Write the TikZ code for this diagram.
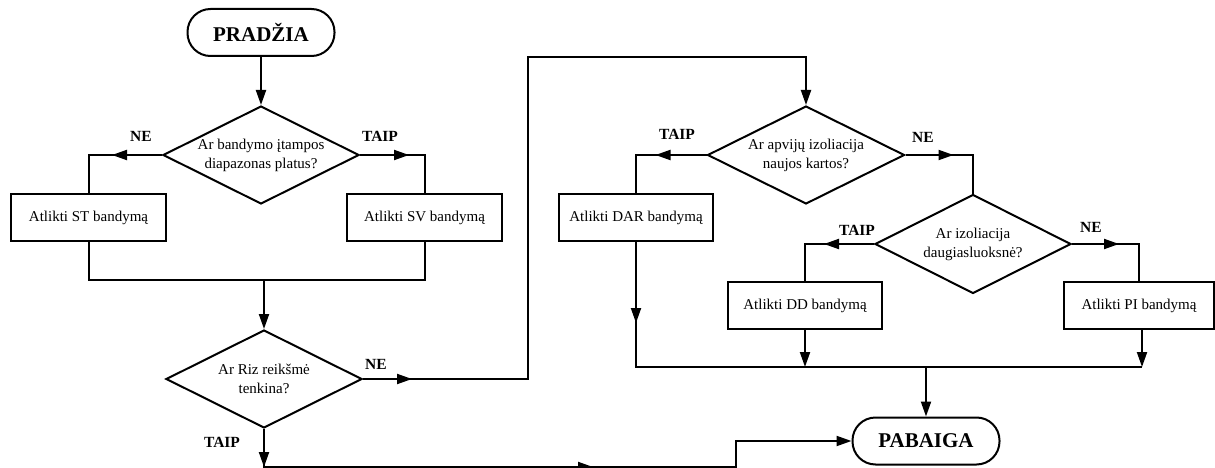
\documentclass[tikz,border=0pt]{standalone}
\usepackage{fontspec}
\setmainfont{Liberation Serif}
\usetikzlibrary{arrows.meta,shapes.geometric,decorations.markings}
\begin{document}
\begin{tikzpicture}[x=1pt,y=-1pt,
  line width=2pt,
  txt/.style={font=\fontsize{15}{19}\selectfont},
  box/.style={draw,rectangle,txt,minimum width=155pt,minimum height=47pt,inner sep=0pt},
  dia/.style={draw,diamond,aspect=2,txt,align=center,inner sep=0pt,minimum width=196pt,minimum height=98pt},
  term/.style={draw,rectangle,rounded corners=23pt,minimum width=147pt,minimum height=47pt,font=\fontsize{21}{24}\selectfont\bfseries},
  lab/.style={font=\fontsize{15.5}{18}\selectfont\bfseries,inner sep=0pt},
  tipstyle/.tip={Triangle[length=15pt,width=10pt]},
  arr/.style={-tipstyle},
  midarrow/.style={postaction={decorate,decoration={markings,mark=at position #1 with {\arrow{tipstyle}}}}}
]
\fill[white] (0,0) rectangle (1215,468);
\useasboundingbox (0,0) rectangle (1215,468);

% nodes
\node[term] (start) at (261,32.5) {PRADŽIA};
\node[dia] (d1) at (261,155) {Ar bandymo įtampos\\diapazonas platus?};
\node[box] (st) at (88.5,217.5) {Atlikti ST bandymą};
\node[box] (sv) at (424.5,217.5) {Atlikti SV bandymą};
\node[dia] (d2) at (264,379) {Ar Riz reikšmė\\tenkina?};
\node[dia,minimum width=197pt] (d3) at (806,155) {Ar apvijų izoliacija\\naujos kartos?};
\node[box,minimum width=154pt] (dar) at (636,217.5) {Atlikti DAR bandymą};
\node[dia,minimum height=99pt] (d4) at (973,244) {Ar izoliacija\\daugiasluoksnė?};
\node[box,minimum width=154pt] (dd) at (805,305.5) {Atlikti DD bandymą};
\node[box,minimum width=150pt] (pi) at (1139,305.5) {Atlikti PI bandymą};
\node[term] (end) at (926,441) {PABAIGA};

% labels
\node[lab] (l1) at (141,136) {NE};
\node[lab] (l2) at (380,136) {TAIP};
\node[lab] (l3) at (376,364) {NE};
\node[lab] (l4) at (222,442) {TAIP};
\node[lab] (l5) at (677,134) {TAIP};
\node[lab] (l6) at (923,137) {NE};
\node[lab] (l7) at (857,230) {TAIP};
\node[lab] (l8) at (1091,227) {NE};

% helper coordinates
\coordinate (j1) at (264,280);
\coordinate (c1) at (528,57);
\coordinate (b1) at (264,467);
\coordinate (b2) at (736,467);
\coordinate (j2) at (637,367);
\coordinate (j3) at (1142,367);

% connectors
\draw[arr] (start) -- (d1.north);
\draw[midarrow=50pt] (d1.west) -| (st.north);
\draw[midarrow=49pt] (d1.east) -| (sv.north);
\draw (st.south) |- (j1) -| (sv.south);
\draw[arr] (j1) -- (d2.north);
\draw[arr,midarrow=49pt] (d2.east) -| (c1) -| (d3.north);
\draw[arr,midarrow=38pt,midarrow=367pt] (d2.south) -- (b1) -- (b2) |- (end.west);
\draw[midarrow=51pt] (d3.west) -| (dar.north);
\draw[midarrow=48pt] (d3.east) -| (d4.north);
\draw[midarrow=50pt] (d4.west) -| (dd.north);
\draw[midarrow=47pt] (d4.east) -| (pi.north);
\draw[midarrow=81pt] (dar.south) |- (j3);
\draw[arr] (dd.south) -- (dd.south |- j2);
\draw[arr] ([xshift=3pt]pi.south) -- (j3);
\draw[arr] (end.north |- j2) -- (end.north);
\end{tikzpicture}
\end{document}
